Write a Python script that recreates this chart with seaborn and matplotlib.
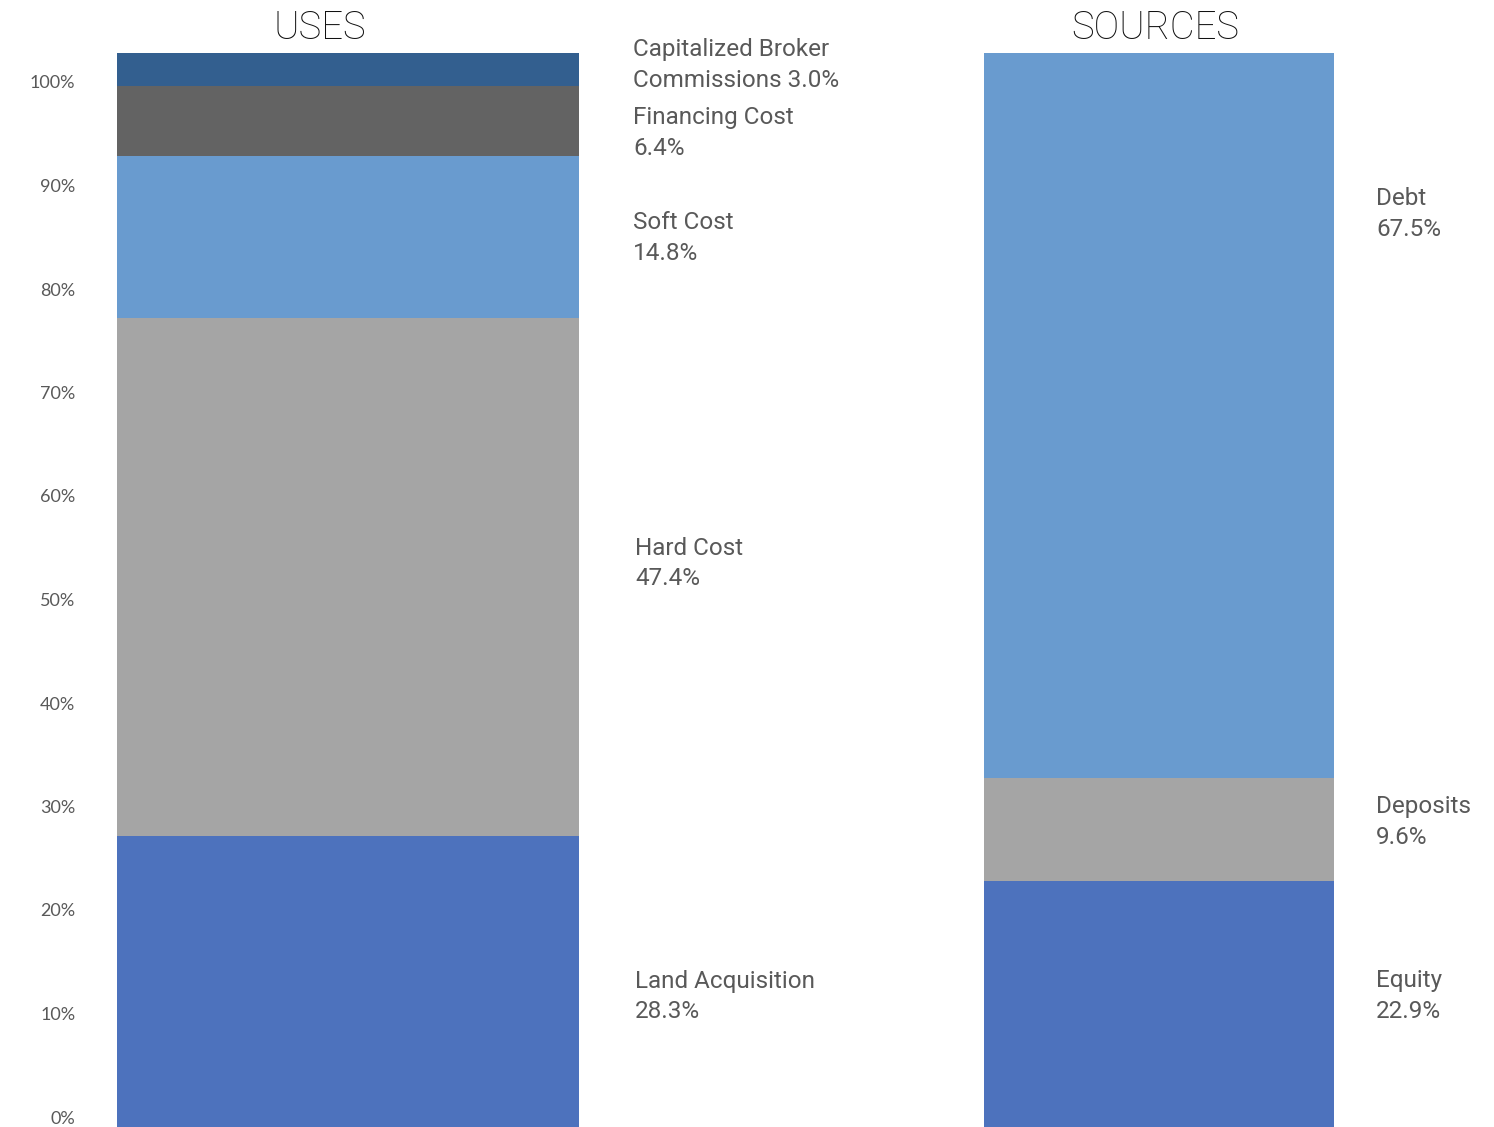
import matplotlib
matplotlib.use("Agg")
import matplotlib.pyplot as plt
import matplotlib.transforms as mtransforms
import numpy as np
import pandas as pd
import seaborn as sns

# --- data -------------------------------------------------------------
uses_labels = ["Land Acquisition", "Hard Cost", "Soft Cost", "Financing Cost",
               "Capitalized Broker\nCommissions"]
uses_share = [28.3, 47.4, 14.8, 6.4, 3.0]

sources_labels = ["Equity", "Deposits", "Debt"]
sources_share = [22.9, 9.6, 67.5]

scale_ticks = [0, 10, 20, 30, 40, 50, 60, 70, 80, 90, 100]

# --- styling ----------------------------------------------------------
uses_colors = ["#4D72BD", "#A5A5A5", "#699BCF", "#636363", "#335F8F"]
sources_colors = ["#4D72BD", "#A5A5A5", "#699BCF"]
text_color = "#595959"

sns.set_theme(style="white")
plt.rcParams["font.family"] = ["Roboto", "DejaVu Sans"]

W, H = 1494, 1127
fig = plt.figure(figsize=(W / 100, H / 100), dpi=100)


def px_axes(left, right, top, bottom):
    """Axes placed by pixel edges (origin top-left)."""
    return fig.add_axes([left / W, (H - bottom) / H, (right - left) / W, (bottom - top) / H])


def stacked_bar(ax, panel, labels, shares, colors):
    df = pd.DataFrame({"panel": panel, "component": labels, "share": shares})
    df["top"] = df["share"].cumsum()
    # draw tallest cumulative bar first so each lower segment sits on top
    for i in range(len(df) - 1, -1, -1):
        sns.barplot(data=df.iloc[[i]], x="panel", y="top", color=colors[i],
                    saturation=1, width=1.0, errorbar=None, linewidth=0, ax=ax)
    ax.set_xlim(-0.5, 0.5)
    ax.set_ylim(0, df["top"].iloc[-1])
    ax.set_axis_off()
    return df


# USES bar
ax_uses = px_axes(117, 579, 53, 1145)
df_uses = stacked_bar(ax_uses, "USES", uses_labels, uses_share, uses_colors)

# SOURCES bar
ax_src = px_axes(984, 1334, 53, 1127)
df_src = stacked_bar(ax_src, "SOURCES", sources_labels, sources_share, sources_colors)

# percentage scale on the left
ax_scale = px_axes(117, 118, 82, 1117)
ax_scale.set_ylim(0, 100)
ax_scale.set_yticks(scale_ticks)
ax_scale.set_yticklabels([f"{t}%" for t in scale_ticks])
ax_scale.set_xticks([])
ax_scale.tick_params(axis="y", length=0, pad=30, labelsize=13, labelcolor=text_color)
for lbl in ax_scale.get_yticklabels():
    lbl.set_family(["Lato", "DejaVu Sans"])
for s in ax_scale.spines.values():
    s.set_visible(False)
ax_scale.patch.set_alpha(0)

# panel titles
title_kw = dict(ha="center", va="center", fontsize=27.5, color="#111111",
                fontweight="light")
fig.text(320 / W, 1 - 28 / H, "USES", **title_kw)
fig.text(1155 / W, 1 - 28 / H, "SOURCES", **title_kw)

# segment labels (vertical anchors in each bar's data units)
uses_label_y = [13.6, 53.2, 83.0, 92.6, 98.8]
uses_label_x = [635, 635, 633, 633, 633]
sources_label_y = [12.2, 28.4, 85.0]

label_kw = dict(ha="left", va="center", fontsize=17.5, color=text_color,
                linespacing=1.42, clip_on=False)

tr_u = mtransforms.blended_transform_factory(fig.transFigure, ax_uses.transData)
for i, row in df_uses.iterrows():
    text = f"{row['component']}\n{row['share']:.1f}%".replace("Commissions\n", "Commissions ")
    ax_uses.text(uses_label_x[i] / W, uses_label_y[i], text, transform=tr_u, **label_kw)

tr_s = mtransforms.blended_transform_factory(fig.transFigure, ax_src.transData)
for i, row in df_src.iterrows():
    ax_src.text(1376 / W, sources_label_y[i], f"{row['component']}\n{row['share']:.1f}%",
                transform=tr_s, **label_kw)

fig.savefig("out.png", dpi=100)
